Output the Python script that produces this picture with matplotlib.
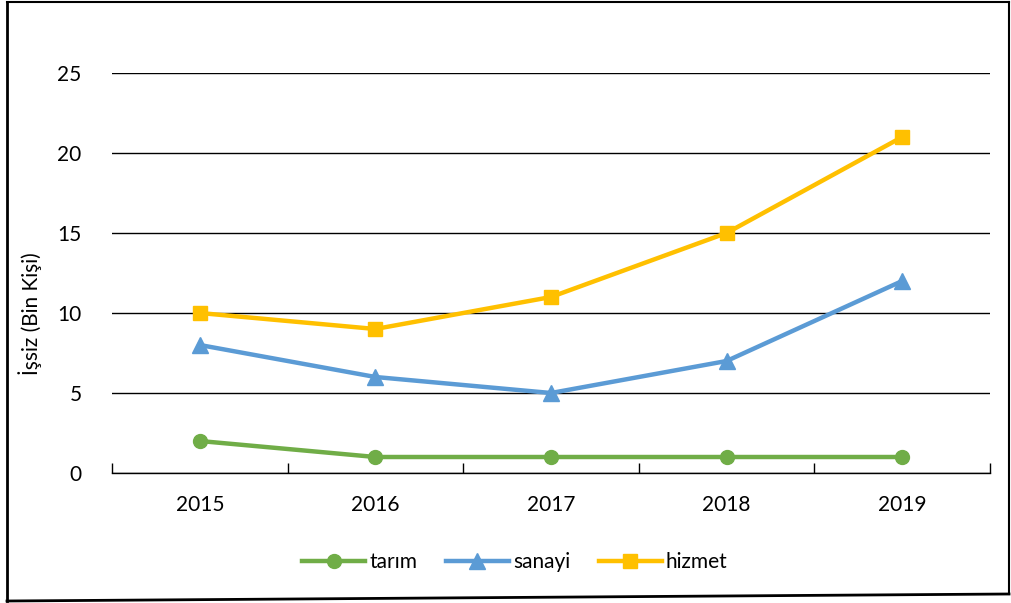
import numpy as np
import matplotlib.pyplot as plt
from matplotlib.lines import Line2D

plt.rcParams['font.family'] = ['Lato', 'DejaVu Sans']

years = ['2015', '2016', '2017', '2018', '2019']
tarim = [2, 1, 1, 1, 1]
sanayi = [8, 6, 5, 7, 12]
hizmet = [10, 9, 11, 15, 21]

fig = plt.figure(figsize=(10.11, 6.03), dpi=100)
ax = fig.add_axes([112/1011, 1-473/603, (990-112)/1011, 400/603])

x = np.arange(len(years))
ax.plot(x, tarim, color='#70AD47', lw=3.2, marker='o', ms=10, label='tarım', zorder=3)
ax.plot(x, sanayi, color='#5B9BD5', lw=3.2, marker='^', ms=11, label='sanayi', zorder=3)
ax.plot(x, hizmet, color='#FFC000', lw=3.2, marker='s', ms=10, label='hizmet', zorder=3)

ax.set_xlim(-0.5, len(years) - 0.5)
ax.set_ylim(0, 25)
ax.set_yticks(range(0, 26, 5))
ax.yaxis.grid(True, color='black', lw=1)
ax.set_axisbelow(True)
ax.set_xticks(x)
ax.set_xticklabels(years)
ax.set_xticks(np.arange(-0.5, len(years)), minor=True)
ax.tick_params(axis='x', which='major', length=0, pad=16, labelsize=15)
ax.tick_params(axis='x', which='minor', direction='in', length=7, width=1)
ax.tick_params(axis='y', length=0, pad=22, labelsize=15)
for s in ['top', 'right', 'left']:
    ax.spines[s].set_visible(False)
ax.spines['bottom'].set_linewidth(1)

fig.text(30/1011, 1-314/603, 'İşsiz (Bin Kişi)', rotation=90, ha='center', va='center', fontsize=15)

fig.legend(loc='center', bbox_to_anchor=(515/1011, 1-562/603), ncol=3, frameon=False,
           fontsize=15, handlelength=3.0, columnspacing=1.4, handletextpad=0.2)

# outer frame
fig.add_artist(Line2D([7/1011, 7/1011], [1-2/603, 1-601/603], color='black', lw=2, transform=fig.transFigure))
fig.add_artist(Line2D([7/1011, 1009/1011], [1-2/603, 1-2/603], color='black', lw=1.5, transform=fig.transFigure))
fig.add_artist(Line2D([1009/1011, 1009/1011], [1-2/603, 1-594/603], color='black', lw=1.5, transform=fig.transFigure))
fig.add_artist(Line2D([7/1011, 1009/1011], [1-601/603, 1-594/603], color='black', lw=2, transform=fig.transFigure))

fig.savefig('out.png', dpi=100)
